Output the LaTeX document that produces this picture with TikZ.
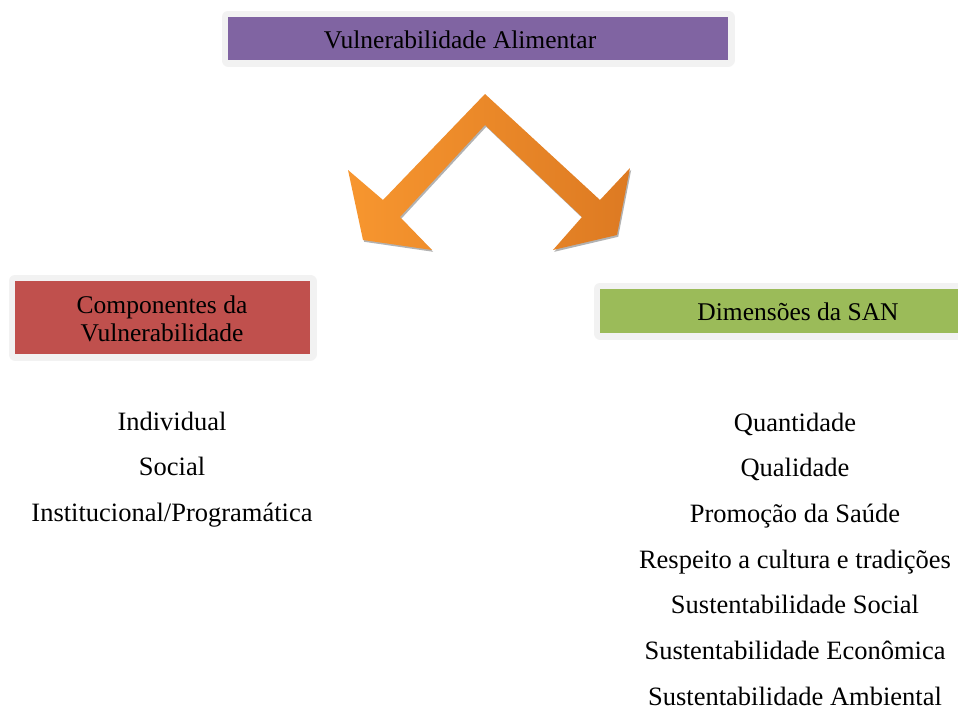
\documentclass[tikz,border=0pt]{standalone}
\usepackage{fontspec}
\setmainfont{Liberation Serif}
\definecolor{vpurple}{HTML}{8064A2}
\definecolor{vred}{HTML}{C0504D}
\definecolor{vgreen}{HTML}{9BBB59}
\definecolor{framegray}{HTML}{F2F2F2}
\definecolor{orangeL}{HTML}{F7962F}
\definecolor{orangeR}{HTML}{DD7A22}
\begin{document}
\begin{tikzpicture}[x=1pt,y=-1pt,
    box/.style={rectangle, inner sep=0pt,
      preaction={draw=framegray, line width=13pt, line join=round}},
    lbl/.style={font=\fontsize{25.5}{28}\selectfont, align=center, inner sep=0pt},
    item/.style={font=\fontsize{26.5}{30}\selectfont, inner sep=0pt, anchor=base}]
  \clip (0,0) rectangle (958,707);
  \fill[white] (0,0) rectangle (958,707);
  % header boxes
  \node[box, fill=vpurple, minimum width=500pt, minimum height=43pt] (top) at (478,38.5) {};
  \node[lbl, anchor=base] (toptext) at (460,48) {Vulnerabilidade Alimentar};
  \node[box, fill=vred, minimum width=295pt, minimum height=73pt] (comp) at (162.5,317.5) {};
  \node[lbl] (comptext) at (162,319) {Componentes da\\Vulnerabilidade};
  \node[box, fill=vgreen, minimum width=380pt, minimum height=44pt] (dim) at (790,311) {};
  \node[lbl, anchor=base] (dimtext) at (798,320.5) {Dimensões da SAN};
  % double arrow
  \fill[gray!60, shift={(1.2,1.8)}]
    (485,125) -- (400,217) -- (432,250) -- (363,240) -- (348,170) -- (383,200) -- (485,94)
    -- (600,200) -- (630,168) -- (617,235) -- (553,250) -- (582,217) -- cycle;
  \shade[left color=orangeL, right color=orangeR]
    (485,125) -- (400,217) -- (432,250) -- (363,240) -- (348,170) -- (383,200) -- (485,94)
    -- (600,200) -- (630,168) -- (617,235) -- (553,250) -- (582,217) -- cycle;
  % lists
  \foreach \t [count=\i] in {Individual, Social, Institucional/Programática}
    \node[item] (comp\i) at (172,384.5+45.7*\i) {\t};
  \foreach \t [count=\i] in {Quantidade, Qualidade, Promoção da Saúde,
      Respeito a cultura e tradições, Sustentabilidade Social,
      Sustentabilidade Econômica, Sustentabilidade Ambiental}
    \node[item] (dim\i) at (795,385.3+45.7*\i) {\t};
\end{tikzpicture}
\end{document}
